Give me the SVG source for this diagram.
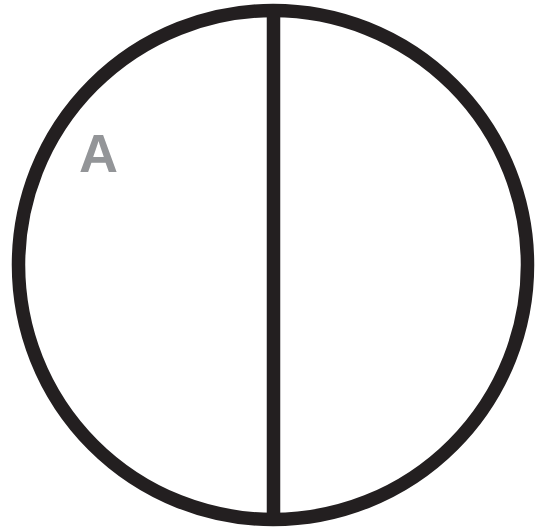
<svg xmlns="http://www.w3.org/2000/svg" width="535" height="530" viewBox="0 0 535 530">
<style>
.ln{fill:none;stroke:#231f20;stroke-width:13.5}
.lbl{font-family:"Liberation Sans",Arial,sans-serif;font-weight:bold;font-size:54px;fill:#939598}
</style>
<rect width="535" height="530" fill="#fff"/>
<g id="circle"><circle class="ln" cx="273" cy="265" r="254.5"/></g>
<g id="connectors"><line class="ln" x1="273.5" y1="8" x2="273.5" y2="522"/></g>
<g id="label-A"><text class="lbl" x="79" y="172">A</text></g>
</svg>
